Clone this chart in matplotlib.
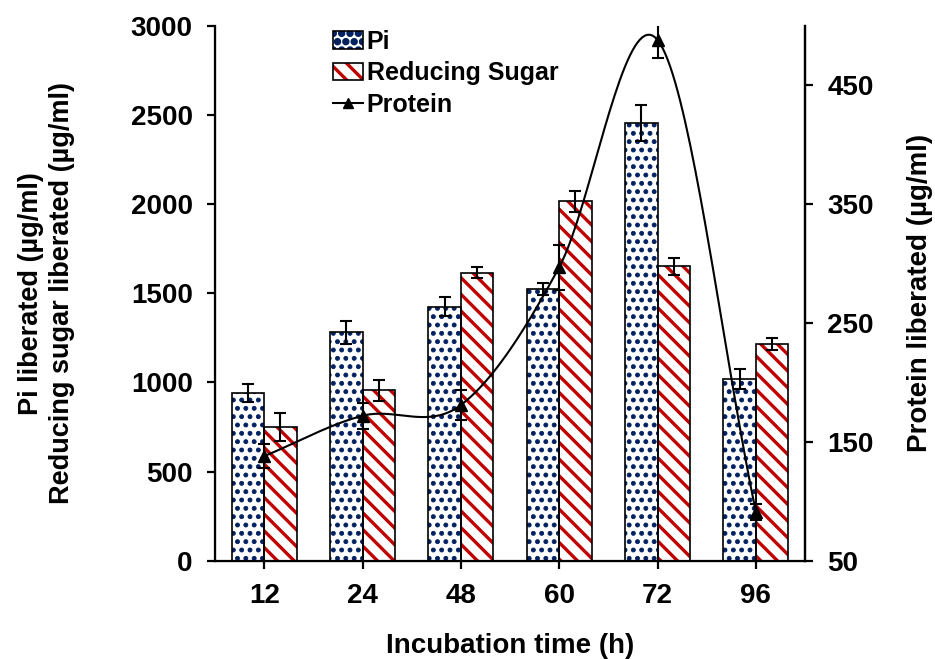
import numpy as np
import matplotlib
matplotlib.use("Agg")
import matplotlib.pyplot as plt
import matplotlib.hatch as mhatch
from matplotlib.patches import Patch
from matplotlib.lines import Line2D

# Data
times = ["12", "24", "48", "60", "72", "96"]
pi_vals = [940, 1280, 1425, 1525, 2455, 1020]
pi_err = [50, 65, 55, 35, 100, 55]
sugar_vals = [750, 955, 1615, 2015, 1650, 1215]
sugar_err = [78, 60, 30, 60, 45, 35]
protein_vals = [138, 172, 181, 297, 488, 91]
protein_err = [10, 11, 13, 19, 15, 7]

navy = "#002060"
red = "#C00000"

plt.rcParams['font.family'] = ['Liberation Sans', 'DejaVu Sans']
plt.rcParams['font.weight'] = 'bold'

# bigger filled dots for the "." hatch (closer to the spreadsheet dot pattern)
mhatch.SmallFilledCircles.size = 0.24


def catmull_rom(xs, ys, n=40):
    # smooth curve through the points (like a spreadsheet "smoothed line")
    xs = np.asarray(xs, float)
    ys = np.asarray(ys, float)
    px = np.concatenate([[2 * xs[0] - xs[1]], xs, [2 * xs[-1] - xs[-2]]])
    py = np.concatenate([[2 * ys[0] - ys[1]], ys, [2 * ys[-1] - ys[-2]]])
    out_x, out_y = [], []
    t = np.linspace(0, 1, n)
    for i in range(1, len(px) - 2):
        for p, out in ((px, out_x), (py, out_y)):
            p0, p1, p2, p3 = p[i - 1], p[i], p[i + 1], p[i + 2]
            seg = 0.5 * ((2 * p1) + (-p0 + p2) * t
                         + (2 * p0 - 5 * p1 + 4 * p2 - p3) * t ** 2
                         + (-p0 + 3 * p1 - 3 * p2 + p3) * t ** 3)
            out.extend(seg)
    return np.array(out_x), np.array(out_y)


fig = plt.figure(figsize=(9.35, 6.59), dpi=100)
ax = fig.add_axes([0.230, 0.149, 0.631, 0.812])

x = np.arange(len(times))
w = 0.33

# Pi bars: navy dot pattern, black outline drawn separately
plt.rcParams['hatch.linewidth'] = 0.6
pi_fill = ax.bar(x - w / 2, pi_vals, w, color="white", edgecolor=navy, hatch="..", linewidth=0)
# Reducing sugar bars: red diagonal stripes
plt.rcParams['hatch.linewidth'] = 2.4
sug_fill = ax.bar(x + w / 2, sugar_vals, w, color="white", edgecolor=red, hatch="\\\\", linewidth=0)
ax.bar(x - w / 2, pi_vals, w, fill=False, edgecolor="black", linewidth=1.2)
ax.bar(x + w / 2, sugar_vals, w, fill=False, edgecolor="black", linewidth=1.2)
ax.errorbar(x - w / 2, pi_vals, yerr=pi_err, fmt="none", ecolor="black", elinewidth=1.5, capsize=4, capthick=1.5)
ax.errorbar(x + w / 2, sugar_vals, yerr=sugar_err, fmt="none", ecolor="black", elinewidth=1.5, capsize=4, capthick=1.5)

ax.set_xlim(-0.5, 5.5)
ax.set_ylim(0, 3000)
ax.set_yticks(np.arange(0, 3001, 500))
ax.set_xticks(x)
ax.set_xticklabels(times)
ax.spines['top'].set_visible(False)
for s in ['left', 'bottom', 'right']:
    ax.spines[s].set_linewidth(1.6)
ax.tick_params(axis='both', labelsize=20, width=1.6, length=6, pad=10)
ax.set_xlabel("Incubation time (h)", fontsize=20, fontweight='bold', labelpad=17)
ax.set_ylabel("Pi liberated (µg/ml)\nReducing sugar liberated (µg/ml)", fontsize=19.5,
              fontweight='bold', linespacing=1.25)
ax.yaxis.set_label_coords(-0.238, 0.5)

# Protein on the secondary axis
ax2 = ax.twinx()
cx, cy = catmull_rom(x, protein_vals)
ax2.plot(cx, cy, color="black", linewidth=1.5)
ax2.errorbar(x, protein_vals, yerr=protein_err, fmt="^", color="black", markersize=8,
             elinewidth=1.5, capsize=4, capthick=1.5)
ax2.set_ylim(50, 500)
ax2.set_yticks([50, 150, 250, 350, 450])
ax2.spines['top'].set_visible(False)
ax2.spines['right'].set_linewidth(1.6)
ax2.tick_params(axis='y', labelsize=20, width=1.6, length=6, pad=10)
ax2.set_ylabel("Protein liberated (µg/ml)", fontsize=20, fontweight='bold')
ax2.yaxis.set_label_coords(1.172, 0.5)

pi_edge = Patch(facecolor="none", edgecolor="black", linewidth=1.2)
sug_edge = Patch(facecolor="none", edgecolor="black", linewidth=1.2)
prot_handle = Line2D([], [], color="black", marker="^", markersize=7, linewidth=1.5)
ax2.legend([(pi_fill[0], pi_edge), (sug_fill[0], sug_edge), prot_handle],
           ["Pi", "Reducing Sugar", "Protein"],
           loc="upper left", bbox_to_anchor=(0.183, 1.011), frameon=False,
           prop={'size': 18, 'weight': 'bold'}, handlelength=1.2, handletextpad=0.15,
           labelspacing=0.3, borderaxespad=0)

fig.savefig("out.png", dpi=100)
